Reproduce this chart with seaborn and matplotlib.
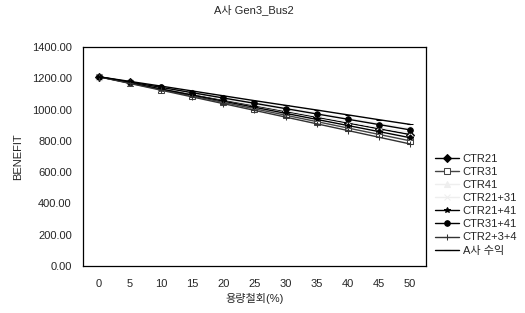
import matplotlib
matplotlib.use("Agg")
import matplotlib.pyplot as plt
import seaborn as sns
import pandas as pd

# capacity withdrawal (%) categories
cut_pct = ["0", "5", "10", "15", "20", "25", "30", "35", "40", "45", "50"]

ctr21 = [1210, 1174, 1137, 1099, 1062, 1025, 988, 951, 914, 877, 840]
ctr31 = [1210, 1169, 1128, 1087, 1046, 1005, 964, 923, 882, 841, 800]
ctr41 = [1210, 1177, 1144, 1111, 1078, 1045, 1012, 979, 946, 913, 880]
ctr21_31 = [1210, 1174, 1138, 1102, 1066, 1030, 994, 958, 922, 886, 852]
ctr21_41 = [1210, 1171, 1132, 1093, 1054, 1015, 976, 937, 898, 859, 820]
ctr31_41 = [1210, 1176, 1142, 1108, 1074, 1040, 1006, 972, 938, 904, 870]
ctr2_3_4 = [1210, 1167, 1124, 1081, 1038, 995, 952, 909, 866, 823, 780]
a_rev = [1210, 1180, 1150, 1119, 1088, 1057, 1027, 997, 966, 935, 905]

series = {
    "CTR21": ctr21,
    "CTR31": ctr31,
    "CTR41": ctr41,
    "CTR21+31": ctr21_31,
    "CTR21+41": ctr21_41,
    "CTR31+41": ctr31_41,
    "CTR2+3+4": ctr2_3_4,
    "A사 수익": a_rev,
}

rows = []
for name, vals in series.items():
    for i, v in enumerate(vals):
        rows.append({"pos": i, "series": name, "benefit": v})
df = pd.DataFrame(rows)

sns.set_style("white")
plt.rcParams["font.family"] = ["Liberation Sans", "Noto Sans CJK KR"]

palette = {
    "CTR21": "black", "CTR31": "#444444", "CTR41": "#eeeeee",
    "CTR21+31": "#eeeeee", "CTR21+41": "black", "CTR31+41": "black",
    "CTR2+3+4": "#333333", "A사 수익": "black",
}
markers = {
    "CTR21": "D", "CTR31": "s", "CTR41": "^", "CTR21+31": "x",
    "CTR21+41": "*", "CTR31+41": "o", "CTR2+3+4": "+", "A사 수익": "_",
}
mfc = {"CTR31": "white"}

fig = plt.figure(figsize=(5.25, 3.13), dpi=100)
ax = fig.add_axes([0.158, 0.15, 0.653, 0.70])

for name in series:
    sub = df[df["series"] == name]
    sns.lineplot(data=sub, x="pos", y="benefit", ax=ax, color=palette[name],
                 marker=markers[name], markersize=4, linewidth=1,
                 markerfacecolor=mfc.get(name, palette[name]),
                 markeredgecolor=palette[name], label=name)

ax.set_xlim(-0.5, 10.5)
ax.set_ylim(0, 1400)
ax.set_xticks(range(len(cut_pct)))
ax.set_xticklabels(cut_pct)
ax.set_yticks(range(0, 1401, 200))
ax.set_yticklabels([f"{v:.2f}" for v in range(0, 1401, 200)])
ax.tick_params(axis="both", labelsize=8, length=0)
ax.tick_params(axis="x", pad=9)
ax.tick_params(axis="y", pad=8)
for s in ax.spines.values():
    s.set_color("black")
    s.set_linewidth(0.9)

ax.set_xlabel("용량철회(%)", fontsize=8, labelpad=3)
ax.set_ylabel("BENEFIT", fontsize=8, labelpad=6)
ax.set_title("A사 Gen3_Bus2", fontsize=8, pad=24)

ax.legend(loc="center left", bbox_to_anchor=(1.01, 0.28), frameon=False,
          fontsize=8, handlelength=2.2, labelspacing=0.28, borderpad=0,
          handletextpad=0.3)

fig.savefig("out.png", dpi=100, facecolor="white")
